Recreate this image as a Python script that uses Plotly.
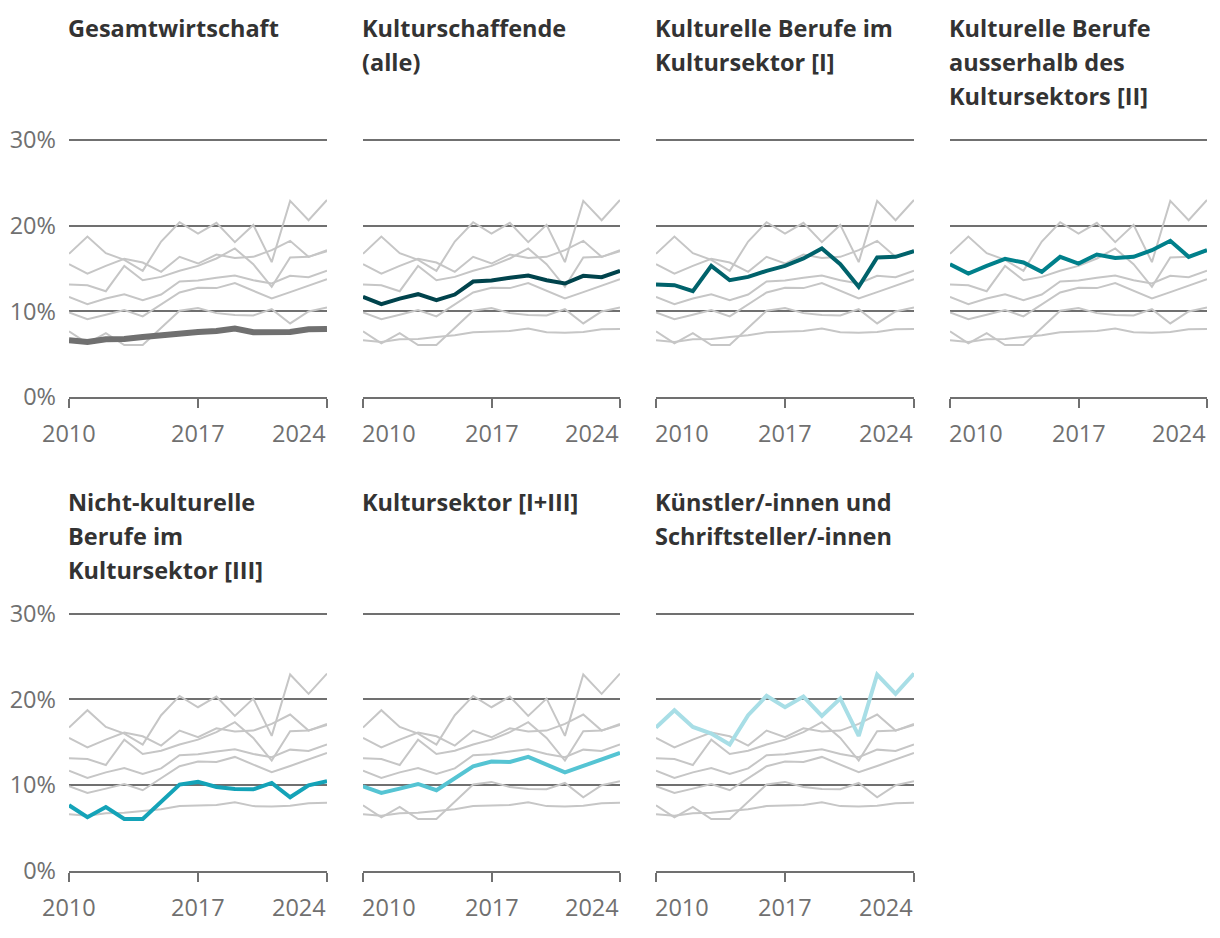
import plotly.graph_objects as go

years = list(range(2010, 2025))

gesamtwirtschaft = [6.62, 6.43, 6.74, 6.78, 7.0, 7.2, 7.56, 7.6, 7.7, 8.0, 7.56, 7.5, 7.6, 7.9, 7.95]
kulturschaffende_alle = [11.69, 10.83, 11.49, 12.0, 11.3, 11.96, 13.48, 13.6, 13.91, 14.18, 13.63, 13.25, 14.14, 13.99, 14.73]
kult_berufe_im_sektor = [13.13, 13.05, 12.35, 15.31, 13.63, 14.02, 14.73, 15.31, 16.17, 17.34, 15.5, 12.86, 16.28, 16.36, 17.02]
kult_berufe_ausserhalb = [15.5, 14.41, 15.31, 16.13, 15.7, 14.61, 16.36, 15.58, 16.63, 16.24, 16.36, 17.14, 18.23, 16.36, 17.14]
nicht_kult_berufe = [7.66, 6.26, 7.46, 6.06, 6.06, 8.05, 10.07, 10.38, 9.79, 9.56, 9.52, 10.26, 8.59, 9.99, 10.45]
kultursektor = [9.87, 9.09, 9.6, 10.14, 9.41, 10.77, 12.2, 12.75, 12.71, 13.29, 12.44, 11.5, 12.24, 12.98, 13.76]
kuenstler = [16.71, 18.73, 16.79, 16.01, 14.73, 18.15, 20.4, 19.08, 20.33, 18.07, 20.09, 15.74, 22.89, 20.64, 23.0]

series = [gesamtwirtschaft, kulturschaffende_alle, kult_berufe_im_sektor, kult_berufe_ausserhalb,
          nicht_kult_berufe, kultursektor, kuenstler]

titles = [
    "Gesamtwirtschaft",
    "Kulturschaffende\n(alle)",
    "Kulturelle Berufe im\nKultursektor [I]",
    "Kulturelle Berufe\nausserhalb des\nKultursektors [II]",
    "Nicht-kulturelle\nBerufe im\nKultursektor [III]",
    "Kultursektor [I+III]",
    "Künstler/-innen und\nSchriftsteller/-innen",
]

colors = ["#707070", "#00434c", "#00626b", "#00808b", "#14a3b8", "#55c4d3", "#a8dee6"]
widths = [6, 4, 4, 4, 4, 4, 4]

y_tickvals = [0, 10, 20, 30]
y_ticktext = ["0%", "10%", "20%", "30%"]
x_tickvals = [2010, 2017, 2024]

W, H = 1220, 938
OFF = 8  # page body margin
col_px = [(69, 327), (363, 620), (656, 914), (950, 1207)]
row_px = [(140, 397), (613.5, 871)]
title_line1 = [27.5, 501.5]
line_pitch = 34.3
Y_MAX = 30.2

AX = "#707070"
GRAY = "#c6c6c6"
FONT = "Open Sans"

fig = go.Figure()
annotations = []

for k in range(7):
    r, c = divmod(k, 4)
    n = k + 1
    xs = "" if n == 1 else str(n)
    xname, yname = "x" + xs, "y" + xs
    for s in series:
        fig.add_trace(go.Scatter(x=years, y=s, mode="lines", xaxis=xname, yaxis=yname,
                                 line=dict(color=GRAY, width=2), hoverinfo="skip", showlegend=False))
    fig.add_trace(go.Scatter(x=years, y=series[k], mode="lines", xaxis=xname, yaxis=yname,
                             line=dict(color=colors[k], width=widths[k]), hoverinfo="skip",
                             showlegend=False))
    x0, x1 = [v - OFF for v in col_px[c]]
    yt, yb = [v - OFF for v in row_px[r]]
    ytop = yb - (yb - yt) * Y_MAX / 30.0
    fig.layout["xaxis" + xs] = dict(
        domain=[x0 / W, x1 / W], anchor=yname, range=[years[0], years[-1]],
        tickvals=x_tickvals, showticklabels=False, ticks="outside", ticklen=9,
        tickwidth=2, tickcolor=AX, showline=True, linecolor=AX, linewidth=2,
        showgrid=False, zeroline=False, fixedrange=True, automargin=False)
    fig.layout["yaxis" + xs] = dict(
        domain=[1 - yb / H, 1 - ytop / H], anchor=xname, range=[0, Y_MAX],
        tickvals=y_tickvals, ticktext=y_ticktext, showticklabels=(c == 0),
        tickfont=dict(family=FONT, size=23.5, color=AX), ticklabelstandoff=12,
        showgrid=True, gridcolor=AX, gridwidth=2, zeroline=False, showline=False,
        ticks="", fixedrange=True, automargin=False)
    for i, tv in enumerate(x_tickvals):
        shift = 0
        if i == 0:
            anchor = "center" if c == 0 else "left"
            if c != 0:
                shift = -3
        elif i == len(x_tickvals) - 1:
            anchor = "right"
            shift = 1
        else:
            anchor = "center"
        annotations.append(dict(
            x=tv, xref=xname, y=1 - yb / H, yref="paper", yshift=-36, xshift=shift,
            text=str(tv), showarrow=False, xanchor=anchor, yanchor="middle",
            font=dict(family=FONT, size=23.5, color=AX)))
    for j, line in enumerate(titles[k].split("\n")):
        ypx = title_line1[r] - OFF + j * line_pitch
        annotations.append(dict(
            x=x0 / W, xref="paper", y=1 - ypx / H, yref="paper", xshift=-3,
            text="<b>" + line + "</b>", showarrow=False, xanchor="left", yanchor="middle",
            font=dict(family=FONT, size=23.5, color="#333333")))

fig.update_layout(
    width=W, height=H, margin=dict(l=0, r=0, t=0, b=0, pad=0, autoexpand=False),
    paper_bgcolor="white", plot_bgcolor="white",
    annotations=annotations, showlegend=False,
    font=dict(family=FONT),
)

fig.write_html("out.html")
